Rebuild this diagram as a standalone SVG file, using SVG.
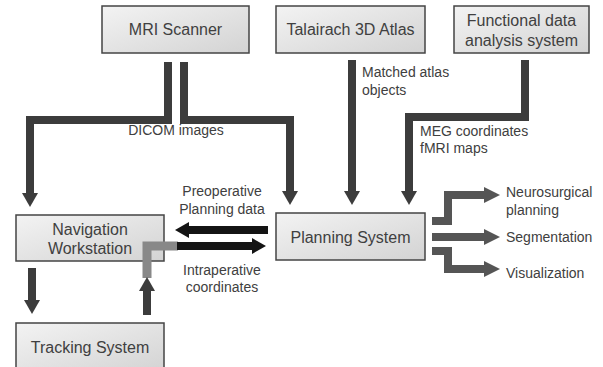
<svg xmlns="http://www.w3.org/2000/svg" width="603" height="367" viewBox="0 0 603 367">
<defs>
<linearGradient id="bg" x1="0" y1="0" x2="1" y2="1">
<stop offset="0" stop-color="#f3f3f3"/>
<stop offset="1" stop-color="#d3d3d3"/>
</linearGradient>
<marker id="hd" markerUnits="userSpaceOnUse" markerWidth="16" markerHeight="16" refX="2" refY="8" orient="auto" viewBox="0 0 16 16">
<path d="M0,0 L14,8 L0,16 Z" fill="#3c3c3c"/>
</marker>
<marker id="hb" markerUnits="userSpaceOnUse" markerWidth="16" markerHeight="16" refX="2" refY="8" orient="auto" viewBox="0 0 16 16">
<path d="M0,0 L14,8 L0,16 Z" fill="#141414"/>
</marker>
<marker id="hg" markerUnits="userSpaceOnUse" markerWidth="18" markerHeight="16" refX="2" refY="8" orient="auto" viewBox="0 0 18 16">
<path d="M0,0 L16,8 L0,16 Z" fill="#555"/>
</marker>
</defs>
<style>
.box{fill:url(#bg);stroke:#444;stroke-width:1.5}
.t{font-family:"Liberation Sans",Arial,sans-serif;fill:#404040;text-anchor:middle}
.bt{font-size:16px}
.lb{font-family:"Liberation Sans",Arial,sans-serif;fill:#404040;font-size:14px}
.d{fill:none;stroke:#3c3c3c;stroke-width:8;marker-end:url(#hd)}
.b{fill:none;stroke:#141414;stroke-width:8;marker-end:url(#hb)}
.g{fill:none;stroke:#555;stroke-width:8;marker-end:url(#hg)}
</style>
<g id="mri"><rect class="box" x="102" y="6" width="147" height="47"/><text class="t bt" x="175.5" y="35">MRI Scanner</text></g>
<g id="atlas"><rect class="box" x="276" y="6" width="149" height="47"/><text class="t bt" x="350.5" y="35">Talairach 3D Atlas</text></g>
<g id="functional"><rect class="box" x="454" y="6" width="135" height="47"/><text class="t bt" x="521.5" y="26">Functional data</text><text class="t bt" x="521.5" y="46">analysis system</text></g>
<g id="navigation"><rect class="box" x="16" y="215" width="148" height="46"/><text class="t bt" x="90" y="235">Navigation</text><text class="t bt" x="90" y="254">Workstation</text></g>
<g id="tracking"><rect class="box" x="16" y="323" width="148" height="50"/><text class="t bt" x="90" y="353">Tracking System</text></g>
<g id="planning"><rect class="box" x="276" y="213" width="149" height="47"/><text class="t bt" x="350.5" y="243">Planning System</text></g>
<g id="connectors">
<path class="d" d="M168,62 V120 H30 V195"/>
<path class="d" d="M184,62 V120 H290 V193"/>
<path class="d" d="M352,60 V193"/>
<path class="d" d="M525,60 V117 H409 V193"/>
<path class="b" d="M268,230 H187"/>
<path fill="none" stroke="#888" stroke-width="9" d="M147,278 V246 H178"/>
<path class="b" d="M177,246 H254"/>
<path class="d" d="M147,315 V289"/>
<path class="d" d="M32,268 V302"/>
<path class="g" d="M432,221 H448 V195 H486"/>
<path class="g" d="M432,237 H486"/>
<path class="g" d="M432,251 H448 V269 H486"/>
</g>
<g id="labels">
<text class="t" style="font-size:14px" x="176" y="135">DICOM images</text>
<text class="lb" x="362" y="77">Matched atlas</text>
<text class="lb" x="362" y="95">objects</text>
<text class="lb" x="420" y="136">MEG coordinates</text>
<text class="lb" x="420" y="153">fMRI maps</text>
<text class="t" style="font-size:14px" x="222" y="196">Preoperative</text>
<text class="t" style="font-size:14px" x="222" y="214">Planning data</text>
<text class="t" style="font-size:14px" x="222" y="275">Intraperative</text>
<text class="t" style="font-size:14px" x="222" y="292">coordinates</text>
<text class="lb" x="506" y="197">Neurosurgical</text>
<text class="lb" x="506" y="215">planning</text>
<text class="lb" x="506" y="242">Segmentation</text>
<text class="lb" x="506" y="278">Visualization</text>
</g>
</svg>
